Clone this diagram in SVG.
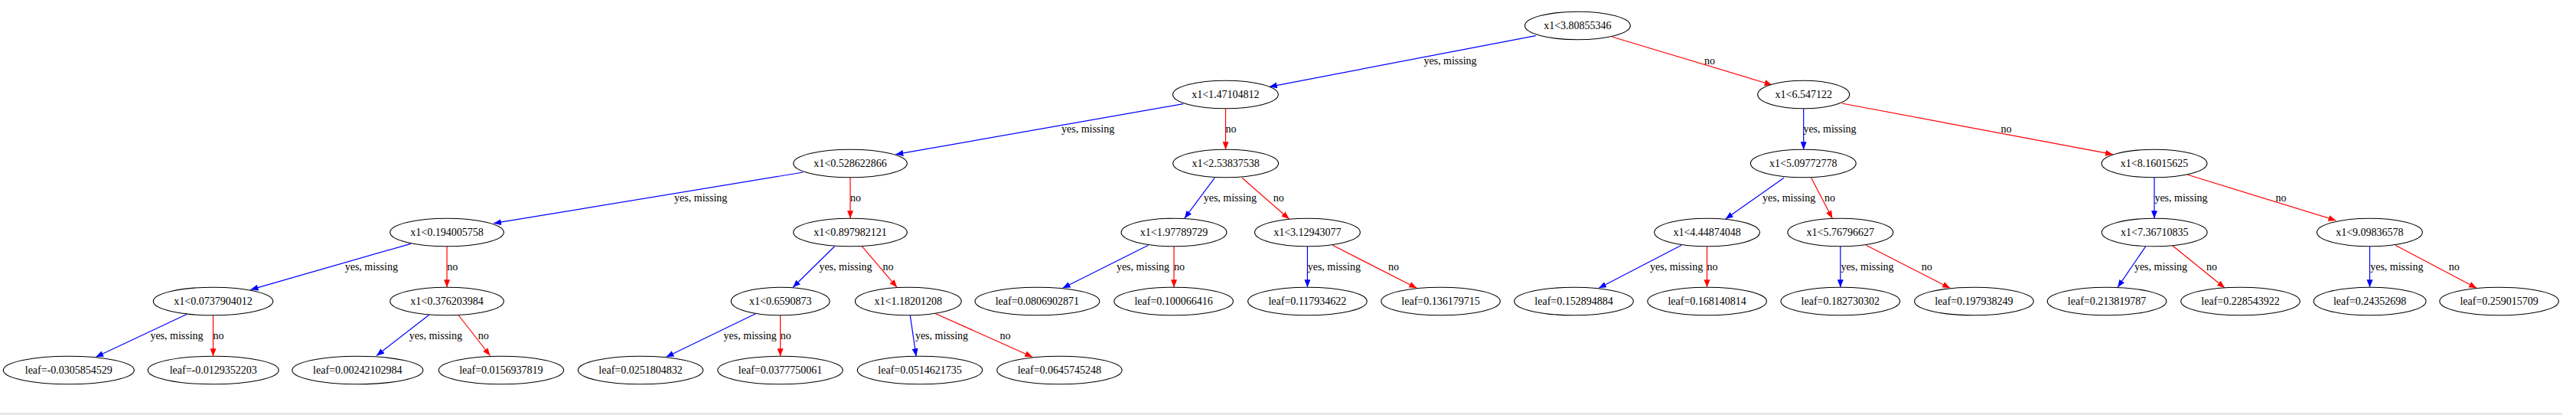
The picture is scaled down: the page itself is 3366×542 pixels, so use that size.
<svg xmlns="http://www.w3.org/2000/svg" width="3366" height="542" viewBox="0 0 3366 542">
<style>
.n ellipse{fill:#fff;stroke:#000;stroke-width:1.1}
text{font-family:"Liberation Serif","Times New Roman",serif;font-size:14px;text-anchor:middle;fill:#000}
.b{stroke:#0000ff;stroke-width:1.2;fill:none;marker-end:url(#ab)}
.r{stroke:#ff0000;stroke-width:1.2;fill:none;marker-end:url(#ar)}
</style>
<defs>
<marker id="ab" markerUnits="userSpaceOnUse" markerWidth="11" markerHeight="9" refX="10" refY="4" orient="auto"><path d="M0,0 L10,4 L0,8 z" fill="#0000ff"/></marker>
<marker id="ar" markerUnits="userSpaceOnUse" markerWidth="11" markerHeight="9" refX="10" refY="4" orient="auto"><path d="M0,0 L10,4 L0,8 z" fill="#ff0000"/></marker>
</defs>
<rect width="3366" height="542" fill="#fff"/>
<rect x="0" y="539" width="3348" height="3" fill="#e8e8e8"/>
<g id="edges">
<line class="b" x1="2006.8" y1="46.7" x2="1658.7" y2="113.3"/><text x="1895" y="83.5">yes, missing</text>
<line class="r" x1="2107" y1="48.3" x2="2315.6" y2="111"/><text x="2234" y="83.5">no</text>
<line class="b" x1="1546" y1="135.7" x2="1170.3" y2="201.7"/><text x="1421.6" y="173">yes, missing</text>
<line class="r" x1="1601.5" y1="141.8" x2="1601.5" y2="195.2"/><text x="1608.6" y="173">no</text>
<line class="b" x1="2356.7" y1="141.8" x2="2356.7" y2="195.2"/><text x="2391" y="173">yes, missing</text>
<line class="r" x1="2406.8" y1="135" x2="2761" y2="201.7"/><text x="2621.5" y="173">no</text>
<line class="b" x1="1049.4" y1="225" x2="645" y2="291.7"/><text x="915.7" y="263">yes, missing</text>
<line class="r" x1="1111" y1="231.8" x2="1111" y2="285.2"/><text x="1118.1" y="263">no</text>
<line class="b" x1="1587.1" y1="232.3" x2="1547.8" y2="285.2"/><text x="1607.3" y="263">yes, missing</text>
<line class="r" x1="1622.9" y1="232.3" x2="1684.5" y2="286"/><text x="1670.7" y="263">no</text>
<line class="b" x1="2331" y1="232.3" x2="2254.7" y2="286"/><text x="2337.6" y="263">yes, missing</text>
<line class="r" x1="2366.7" y1="232.3" x2="2394.3" y2="285.2"/><text x="2391" y="263">no</text>
<line class="b" x1="2815" y1="231.8" x2="2815" y2="285.2"/><text x="2850" y="263">yes, missing</text>
<line class="r" x1="2858.7" y1="228.3" x2="3052.5" y2="288"/><text x="2980.4" y="263">no</text>
<line class="b" x1="536.7" y1="318.3" x2="327.4" y2="378.3"/><text x="485.3" y="353">yes, missing</text>
<line class="r" x1="584" y1="321.8" x2="584" y2="375.2"/><text x="591.3" y="353">no</text>
<line class="b" x1="1090.5" y1="321.7" x2="1036.1" y2="375.3"/><text x="1105" y="353">yes, missing</text>
<line class="r" x1="1126.3" y1="321.7" x2="1172.1" y2="375.3"/><text x="1160.6" y="353">no</text>
<line class="b" x1="1500.5" y1="320.3" x2="1388.6" y2="376.3"/><text x="1493.5" y="353">yes, missing</text>
<line class="r" x1="1534" y1="321.8" x2="1534" y2="375.2"/><text x="1541" y="353">no</text>
<line class="b" x1="1708.4" y1="321.8" x2="1708.4" y2="375.2"/><text x="1743.3" y="353">yes, missing</text>
<line class="r" x1="1741.3" y1="320.3" x2="1851.2" y2="376.3"/><text x="1821" y="353">no</text>
<line class="b" x1="2197.1" y1="320.3" x2="2089.1" y2="376.3"/><text x="2190.6" y="353">yes, missing</text>
<line class="r" x1="2230.5" y1="321.8" x2="2230.5" y2="375.2"/><text x="2237.5" y="353">no</text>
<line class="b" x1="2404.8" y1="321.8" x2="2404.8" y2="375.2"/><text x="2440" y="353">yes, missing</text>
<line class="r" x1="2438.3" y1="320.3" x2="2548.1" y2="376.3"/><text x="2517.7" y="353">no</text>
<line class="b" x1="2804" y1="321.3" x2="2767.1" y2="375.3"/><text x="2823.5" y="353">yes, missing</text>
<line class="r" x1="2839" y1="321" x2="2907" y2="376"/><text x="2890" y="353">no</text>
<line class="b" x1="3096.5" y1="321.8" x2="3096.5" y2="375.2"/><text x="3131.8" y="353">yes, missing</text>
<line class="r" x1="3129.9" y1="320.3" x2="3236.1" y2="376.3"/><text x="3206.8" y="353">no</text>
<line class="b" x1="244.4" y1="410.3" x2="125.2" y2="466.3"/><text x="231" y="443">yes, missing</text>
<line class="r" x1="278.5" y1="411.8" x2="278.5" y2="465.2"/><text x="285.5" y="443">no</text>
<line class="b" x1="561" y1="411" x2="492" y2="464.5"/><text x="569.4" y="443">yes, missing</text>
<line class="r" x1="598.6" y1="411" x2="640.4" y2="464.5"/><text x="631.8" y="443">no</text>
<line class="b" x1="987.8" y1="409.5" x2="870.5" y2="466.3"/><text x="980.2" y="443">yes, missing</text>
<line class="r" x1="1019.6" y1="411.8" x2="1019.6" y2="465.2"/><text x="1026.8" y="443">no</text>
<line class="b" x1="1189.3" y1="411.8" x2="1197.1" y2="465.2"/><text x="1230.5" y="443">yes, missing</text>
<line class="r" x1="1222.2" y1="409.5" x2="1349.2" y2="466.3"/><text x="1313.4" y="443">no</text>
</g>
<g id="n0" class="n"><ellipse cx="2061.4" cy="33.5" rx="68.9" ry="18.3"/><text x="2061.4" y="38">x1&lt;3.80855346</text></g>
<g id="n1" class="n"><ellipse cx="1601.4" cy="123.5" rx="68.9" ry="18.3"/><text x="1601.4" y="128">x1&lt;1.47104812</text></g>
<g id="n2" class="n"><ellipse cx="2356.7" cy="123.5" rx="60" ry="18.3"/><text x="2356.7" y="128">x1&lt;6.547122</text></g>
<g id="n3" class="n"><ellipse cx="1111" cy="213.5" rx="74.3" ry="18.3"/><text x="1111" y="218">x1&lt;0.528622866</text></g>
<g id="n4" class="n"><ellipse cx="1601.6" cy="213.5" rx="68.9" ry="18.3"/><text x="1601.6" y="218">x1&lt;2.53837538</text></g>
<g id="n5" class="n"><ellipse cx="2356.3" cy="213.5" rx="68.9" ry="18.3"/><text x="2356.3" y="218">x1&lt;5.09772778</text></g>
<g id="n6" class="n"><ellipse cx="2815" cy="213.5" rx="68.9" ry="18.3"/><text x="2815" y="218">x1&lt;8.16015625</text></g>
<g id="n7" class="n"><ellipse cx="584" cy="303.5" rx="74.3" ry="18.3"/><text x="584" y="308">x1&lt;0.194005758</text></g>
<g id="n8" class="n"><ellipse cx="1111" cy="303.5" rx="74.3" ry="18.3"/><text x="1111" y="308">x1&lt;0.897982121</text></g>
<g id="n9" class="n"><ellipse cx="1534" cy="303.5" rx="68.9" ry="18.3"/><text x="1534" y="308">x1&lt;1.97789729</text></g>
<g id="n10" class="n"><ellipse cx="1708.4" cy="303.5" rx="68.9" ry="18.3"/><text x="1708.4" y="308">x1&lt;3.12943077</text></g>
<g id="n11" class="n"><ellipse cx="2230.6" cy="303.5" rx="68.9" ry="18.3"/><text x="2230.6" y="308">x1&lt;4.44874048</text></g>
<g id="n12" class="n"><ellipse cx="2404.8" cy="303.5" rx="68.9" ry="18.3"/><text x="2404.8" y="308">x1&lt;5.76796627</text></g>
<g id="n13" class="n"><ellipse cx="2815.2" cy="303.5" rx="68.9" ry="18.3"/><text x="2815.2" y="308">x1&lt;7.36710835</text></g>
<g id="n14" class="n"><ellipse cx="3096.4" cy="303.5" rx="68.9" ry="18.3"/><text x="3096.4" y="308">x1&lt;9.09836578</text></g>
<g id="n15" class="n"><ellipse cx="278.5" cy="393.5" rx="78.2" ry="18.3"/><text x="278.5" y="398">x1&lt;0.0737904012</text></g>
<g id="n16" class="n"><ellipse cx="584" cy="393.5" rx="74.3" ry="18.3"/><text x="584" y="398">x1&lt;0.376203984</text></g>
<g id="n17" class="n"><ellipse cx="1019.7" cy="393.5" rx="64.4" ry="18.3"/><text x="1019.7" y="398">x1&lt;0.6590873</text></g>
<g id="n18" class="n"><ellipse cx="1186.8" cy="393.5" rx="69.4" ry="18.3"/><text x="1186.8" y="398">x1&lt;1.18201208</text></g>
<g id="n19" class="n"><ellipse cx="1355.4" cy="393.5" rx="81.4" ry="18.3"/><text x="1355.4" y="398">leaf=0.0806902871</text></g>
<g id="n20" class="n"><ellipse cx="1533.6" cy="393.5" rx="77.8" ry="18.3"/><text x="1533.6" y="398">leaf=0.100066416</text></g>
<g id="n21" class="n"><ellipse cx="1708.4" cy="393.5" rx="77.8" ry="18.3"/><text x="1708.4" y="398">leaf=0.117934622</text></g>
<g id="n22" class="n"><ellipse cx="1882.5" cy="393.5" rx="77.8" ry="18.3"/><text x="1882.5" y="398">leaf=0.136179715</text></g>
<g id="n23" class="n"><ellipse cx="2056.5" cy="393.5" rx="77.8" ry="18.3"/><text x="2056.5" y="398">leaf=0.152894884</text></g>
<g id="n24" class="n"><ellipse cx="2230.6" cy="393.5" rx="77.8" ry="18.3"/><text x="2230.6" y="398">leaf=0.168140814</text></g>
<g id="n25" class="n"><ellipse cx="2404.8" cy="393.5" rx="77.8" ry="18.3"/><text x="2404.8" y="398">leaf=0.182730302</text></g>
<g id="n26" class="n"><ellipse cx="2579.4" cy="393.5" rx="77.8" ry="18.3"/><text x="2579.4" y="398">leaf=0.197938249</text></g>
<g id="n27" class="n"><ellipse cx="2753" cy="393.5" rx="77.8" ry="18.3"/><text x="2753" y="398">leaf=0.213819787</text></g>
<g id="n28" class="n"><ellipse cx="2927.5" cy="393.5" rx="77.8" ry="18.3"/><text x="2927.5" y="398">leaf=0.228543922</text></g>
<g id="n29" class="n"><ellipse cx="3096.6" cy="393.5" rx="73.4" ry="18.3"/><text x="3096.6" y="398">leaf=0.24352698</text></g>
<g id="n30" class="n"><ellipse cx="3265.6" cy="393.5" rx="77.8" ry="18.3"/><text x="3265.6" y="398">leaf=0.259015709</text></g>
<g id="n31" class="n"><ellipse cx="89.8" cy="483.5" rx="85.5" ry="18.3"/><text x="89.8" y="488">leaf=-0.0305854529</text></g>
<g id="n32" class="n"><ellipse cx="278.7" cy="483.5" rx="85.5" ry="18.3"/><text x="278.7" y="488">leaf=-0.0129352203</text></g>
<g id="n33" class="n"><ellipse cx="467.3" cy="483.5" rx="85.5" ry="18.3"/><text x="467.3" y="488">leaf=0.00242102984</text></g>
<g id="n34" class="n"><ellipse cx="654.9" cy="483.5" rx="81.7" ry="18.3"/><text x="654.9" y="488">leaf=0.0156937819</text></g>
<g id="n35" class="n"><ellipse cx="837" cy="483.5" rx="81.7" ry="18.3"/><text x="837" y="488">leaf=0.0251804832</text></g>
<g id="n36" class="n"><ellipse cx="1019.5" cy="483.5" rx="81.7" ry="18.3"/><text x="1019.5" y="488">leaf=0.0377750061</text></g>
<g id="n37" class="n"><ellipse cx="1202" cy="483.5" rx="81.7" ry="18.3"/><text x="1202" y="488">leaf=0.0514621735</text></g>
<g id="n38" class="n"><ellipse cx="1384.4" cy="483.5" rx="81.7" ry="18.3"/><text x="1384.4" y="488">leaf=0.0645745248</text></g>
</svg>
